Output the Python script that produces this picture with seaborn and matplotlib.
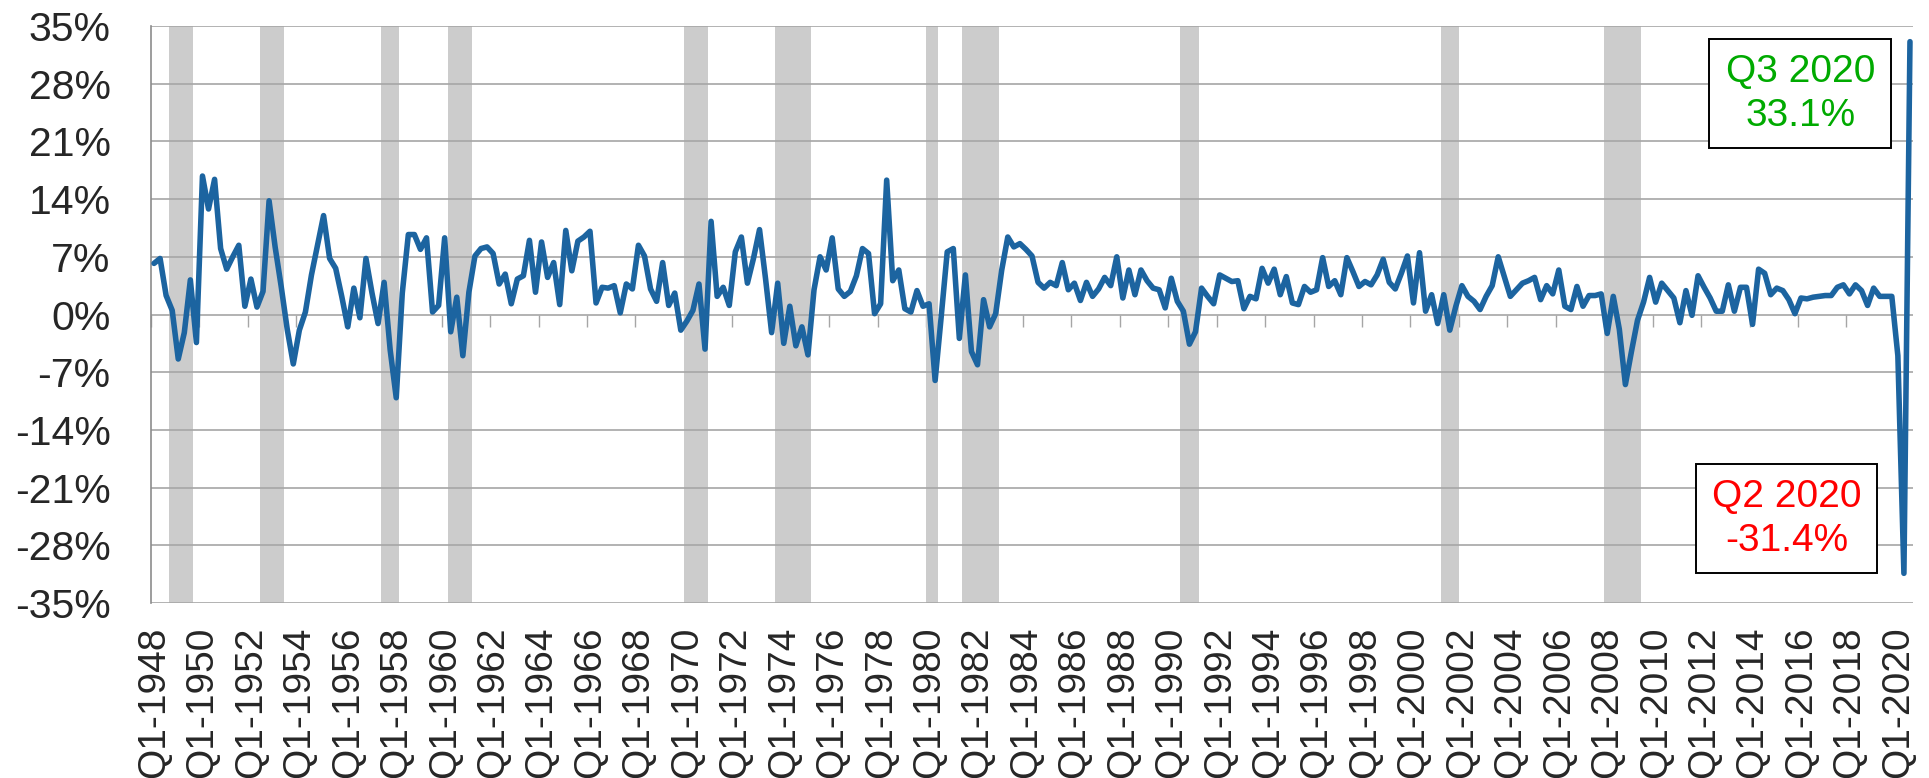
import numpy as np
import pandas as pd
import matplotlib
matplotlib.use("Agg")
import matplotlib.pyplot as plt
from matplotlib.patches import Rectangle
import seaborn as sns

first_year, last_year = 1948, 2020
growth = [
    6.2, 6.8, 2.3, 0.5,      # 1948
    -5.4, -2.2, 4.2, -3.4,   # 1949
    16.8, 12.8, 16.4, 8.0,   # 1950
    5.5, 7.0, 8.4, 1.0,      # 1951
    4.3, 0.9, 2.8, 13.8,     # 1952
    8.2, 3.4, -1.8, -6.0,    # 1953
    -1.9, 0.3, 4.8, 8.4,     # 1954
    12.0, 6.8, 5.6, 2.2,     # 1955
    -1.5, 3.2, -0.4, 6.8,    # 1956
    2.6, -1.1, 3.9, -4.3,    # 1957
    -10.1, 2.6, 9.7, 9.7,    # 1958
    7.9, 9.3, 0.3, 1.1,      # 1959
    9.3, -2.1, 2.1, -5.0,    # 1960
    2.7, 7.1, 8.0, 8.2,      # 1961
    7.4, 3.7, 4.9, 1.3,      # 1962
    4.3, 4.7, 9.0, 2.7,      # 1963
    8.8, 4.5, 6.3, 1.2,      # 1964
    10.2, 5.3, 8.9, 9.4,     # 1965
    10.1, 1.4, 3.3, 3.2,     # 1966
    3.5, 0.2, 3.7, 3.1,      # 1967
    8.4, 7.1, 3.1, 1.6,      # 1968
    6.3, 1.1, 2.6, -1.9,     # 1969
    -0.8, 0.5, 3.7, -4.2,    # 1970
    11.3, 2.2, 3.3, 1.1,     # 1971
    7.6, 9.4, 3.8, 6.8,      # 1972
    10.3, 4.3, -2.2, 3.8,    # 1973
    -3.5, 1.0, -3.8, -1.5,   # 1974
    -4.9, 3.0, 7.0, 5.4,     # 1975
    9.3, 3.1, 2.2, 2.8,      # 1976
    4.7, 8.0, 7.4, 0.1,      # 1977
    1.3, 16.3, 4.1, 5.4,     # 1978
    0.7, 0.3, 2.9, 1.0,      # 1979
    1.3, -8.0, -0.3, 7.6,    # 1980
    8.0, -2.9, 4.8, -4.5,    # 1981
    -6.1, 1.8, -1.5, 0.1,    # 1982
    5.4, 9.4, 8.2, 8.6,      # 1983
    7.9, 7.1, 3.9, 3.2,      # 1984
    3.9, 3.5, 6.3, 3.0,      # 1985
    3.8, 1.7, 3.9, 2.2,      # 1986
    3.1, 4.5, 3.5, 7.0,      # 1987
    2.0, 5.4, 2.4, 5.4,      # 1988
    4.1, 3.2, 3.0, 0.8,      # 1989
    4.4, 1.6, 0.4, -3.6,     # 1990
    -2.1, 3.2, 2.2, 1.3,     # 1991
    4.8, 4.4, 4.0, 4.1,      # 1992
    0.7, 2.2, 1.9, 5.6,      # 1993
    3.8, 5.5, 2.4, 4.6,      # 1994
    1.4, 1.2, 3.4, 2.7,      # 1995
    3.0, 6.9, 3.4, 4.1,      # 1996
    2.4, 6.9, 5.2, 3.4,      # 1997
    4.0, 3.6, 4.8, 6.7,      # 1998
    3.9, 3.1, 5.0, 7.1,      # 1999
    1.4, 7.5, 0.4, 2.4,      # 2000
    -1.1, 2.4, -1.9, 1.0,    # 2001
    3.5, 2.2, 1.6, 0.6,      # 2002
    2.2, 3.5, 7.0, 4.6,      # 2003
    2.2, 3.0, 3.8, 4.1,      # 2004
    4.5, 1.8, 3.5, 2.5,      # 2005
    5.4, 1.0, 0.6, 3.4,      # 2006
    1.0, 2.3, 2.3, 2.5,      # 2007
    -2.3, 2.2, -1.8, -8.5,   # 2008
    -4.5, -0.7, 1.5, 4.5,    # 2009
    1.5, 3.8, 2.9, 2.0,      # 2010
    -1.0, 2.9, -0.1, 4.7,    # 2011
    3.3, 2.0, 0.4, 0.4,      # 2012
    3.6, 0.4, 3.3, 3.3,      # 2013
    -1.2, 5.5, 5.0, 2.4,     # 2014
    3.2, 2.9, 1.8, 0.1,      # 2015
    2.0, 1.9, 2.1, 2.2,      # 2016
    2.3, 2.3, 3.3, 3.6,      # 2017
    2.5, 3.6, 2.9, 1.1,      # 2018
    3.2, 2.2, 2.2, 2.2,      # 2019
    -5.0, -31.4, 33.1,       # 2020
]

# shaded recession periods (first and last quarter shaded)
recessions = [
    ("Q4-1948", "Q3-1949"), ("Q3-1952", "Q2-1953"), ("Q3-1957", "Q1-1958"),
    ("Q2-1960", "Q1-1961"), ("Q1-1970", "Q4-1970"), ("Q4-1973", "Q1-1975"),
    ("Q1-1980", "Q2-1980"), ("Q3-1981", "Q4-1982"), ("Q3-1990", "Q1-1991"),
    ("Q2-2001", "Q4-2001"), ("Q1-2008", "Q2-2009"),
]

y_ticks = list(range(-35, 36, 7))
label_step = 8  # one label every two years

quarters = [f"Q{q}-{y}" for y in range(first_year, last_year + 1) for q in range(1, 5)]
quarters = quarters[:len(growth)]
df = pd.DataFrame({"quarter": quarters, "growth": growth})
df["pos"] = np.arange(len(df))
pos = dict(zip(df["quarter"], df["pos"]))

# --- Plot ---
sns.set_style("white")
plt.rcParams["font.family"] = ["Liberation Sans", "DejaVu Sans"]

grid_col = "#A6A6A6"
fig = plt.figure(figsize=(19.29, 7.78), dpi=100)
ax = fig.add_axes([151 / 1929, 175 / 778, 1762 / 1929, 577 / 778])

for start, end in recessions:
    ax.axvspan(pos[start] - 0.5, pos[end] + 0.5, color="#CCCCCC", lw=0, zorder=1)

sns.lineplot(data=df, x="pos", y="growth", color="#1C64A0", linewidth=4.0,
             solid_joinstyle="round", ax=ax, zorder=3)

ax.set_xlim(-0.5, len(df) - 0.5)
ax.set_ylim(-35, 35)
ax.set_xlabel("")
ax.set_ylabel("")

# y axis
ax.set_yticks(y_ticks)
ax.set_yticklabels([f"{v}%" for v in y_ticks])
ax.set_axisbelow("line")
ax.yaxis.grid(True, color=grid_col, linewidth=1.2)
ax.tick_params(axis="y", length=10, width=1, color=grid_col, pad=19, labelsize=29.5)

# x axis labels at the bottom
lab_pos = df["pos"][::label_step]
ax.set_xticks(lab_pos)
ax.set_xticklabels(df["quarter"][::label_step], rotation=90)
ax.tick_params(axis="x", length=0, pad=17, labelsize=28)

for s in ["top", "right", "bottom"]:
    ax.spines[s].set_visible(False)
ax.spines["left"].set_color("#8C8C8C")
ax.spines["left"].set_linewidth(1.2)

# tick marks hanging from the 0% line
sec = ax.secondary_xaxis(0.5)
sec.set_alignment("bottom")
sec.set_xticks([p - 0.5 for p in range(0, len(df) + 1, label_step)])
sec.tick_params(axis="x", direction="out", length=8.6, width=1, color=grid_col,
                labelbottom=False, labeltop=False)
for s in sec.spines.values():
    s.set_visible(False)

# callouts
callouts = [
    ((0.8844, 0.788, 0.1033, 0.189), "Q3 2020\n33.1%", "#00AA00"),
    ((0.8769, 0.0515, 0.1028, 0.1889), "Q2 2020\n-31.4%", "#FF0000"),
]
for (x0, y0, w, h), txt, col in callouts:
    ax.add_patch(Rectangle((x0, y0), w, h, transform=ax.transAxes, facecolor="white",
                           edgecolor="black", linewidth=1.4, zorder=5))
    ax.text(x0 + w / 2, y0 + h / 2, txt, transform=ax.transAxes, ha="center",
            va="center", ma="center", color=col, fontsize=28, linespacing=1.3, zorder=6)

fig.savefig("out.png", dpi=100)
